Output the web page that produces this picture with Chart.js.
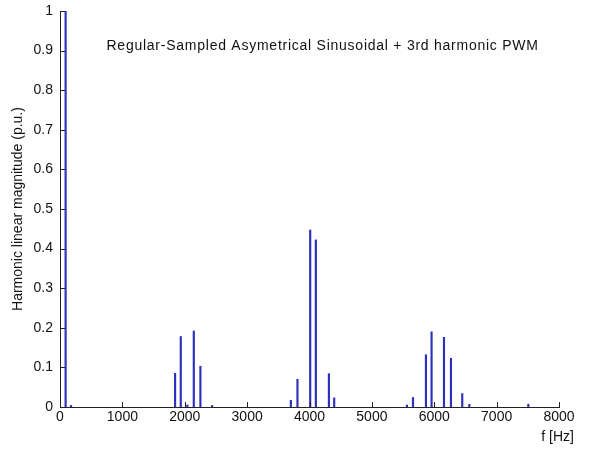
<!DOCTYPE html>
<html>
<head>
<meta charset="utf-8">
<title>Harmonic spectrum</title>
<script src="https://cdn.jsdelivr.net/npm/chart.js@4/dist/chart.umd.min.js"></script>
<style>
    html, body { margin: 0; padding: 0; background: #ffffff; }
    #spectrumChart { display: block; }
</style>
</head>
<body>
<canvas id="spectrumChart" width="590" height="458"></canvas>
<script>
// Harmonic frequencies (Hz) and their linear magnitudes (p.u.)
const harmonicFreqs = [90, 177, 1845, 1936, 2042, 2145, 2251, 2439,
    3701, 3807, 4011, 4102, 4311, 4396,
    5562, 5659, 5867, 5957, 6156, 6268, 6449, 6562, 7508];
const harmonicMags = [1.0, 0.004, 0.085, 0.178, 0.005, 0.192, 0.103, 0.004,
    0.017, 0.070, 0.447, 0.422, 0.084, 0.023,
    0.005, 0.024, 0.132, 0.190, 0.176, 0.123, 0.034, 0.007, 0.007];

// Axis ranges / tick steps
const xRange = [0, 8000];
const xStep = 1000;
const yRange = [0, 1];
const yStep = 0.1;

// Text
const plotTitle = 'Regular-Sampled Asymetrical Sinusoidal + 3rd harmonic PWM';
const xLabel = 'f [Hz]';
const yLabel = 'Harmonic linear magnitude (p.u.)';
const titleAt = { x: 4210, y: 0.91 };   // in data units

const FONT = '"Liberation Sans", Arial, Helvetica, sans-serif';
const textColor = '#111111';
const axisColor = '#222222';
const stemColor = '#2f2fbf';

/**
 * Draws MATLAB style inward tick marks, the in-axes title and the x label
 */
const matlabDecor = {
    id: 'matlabDecor',
    afterDraw(chart) {
        const { ctx, chartArea, scales } = chart;
        const x = scales.x;
        const y = scales.y;
        const len = 5;

        ctx.save();
        ctx.strokeStyle = axisColor;
        ctx.lineWidth = 1;
        ctx.beginPath();
        x.ticks.forEach(t => {
            const px = Math.round(x.getPixelForValue(t.value)) + 0.5;
            ctx.moveTo(px, chartArea.bottom);
            ctx.lineTo(px, chartArea.bottom - len);
        });
        y.ticks.forEach(t => {
            const py = Math.round(y.getPixelForValue(t.value)) + 0.5;
            ctx.moveTo(chartArea.left, py);
            ctx.lineTo(chartArea.left + len, py);
        });
        ctx.stroke();

        ctx.fillStyle = textColor;
        ctx.font = '14px ' + FONT;
        ctx.textBaseline = 'middle';

        // title inside the axes (the original font runs a little wider)
        ctx.textAlign = 'center';
        ctx.letterSpacing = '0.75px';
        ctx.fillText(plotTitle, x.getPixelForValue(titleAt.x), y.getPixelForValue(titleAt.y));
        ctx.letterSpacing = '0px';

        // x label, below the right end of the axis
        ctx.textAlign = 'right';
        ctx.fillText(xLabel, chart.width - 16, chartArea.bottom + 30);
        ctx.restore();
    }
};

const canvas = document.getElementById('spectrumChart');
const ctx = canvas.getContext('2d');

new Chart(ctx, {
    type: 'bar',
    data: {
        datasets: [{
            data: harmonicFreqs.map((f, i) => ({ x: f, y: harmonicMags[i] })),
            backgroundColor: stemColor,
            borderWidth: 0,
            barThickness: 1.5
        }]
    },
    options: {
        responsive: false,
        animation: false,
        layout: {
            padding: { top: 11, right: 31, left: 0, bottom: 0 }
        },
        plugins: {
            legend: { display: false },
            tooltip: { enabled: false }
        },
        scales: {
            x: {
                type: 'linear',
                offset: false,
                min: xRange[0],
                max: xRange[1],
                grid: { display: false, drawTicks: false },
                border: { display: true, color: axisColor, width: 1 },
                ticks: {
                    stepSize: xStep,
                    padding: 2,
                    color: textColor,
                    font: { family: FONT, size: 14 },
                    maxRotation: 0,
                    callback: function (value) {
                        return String(value);
                    }
                },
                afterFit(scale) {
                    scale.height = 51;
                    scale.paddingLeft = 0;
                    scale.paddingRight = 0;
                }
            },
            y: {
                min: yRange[0],
                max: yRange[1],
                grid: { display: false, drawTicks: false },
                border: { display: true, color: axisColor, width: 1 },
                ticks: {
                    stepSize: yStep,
                    padding: 7,
                    color: textColor,
                    font: { family: FONT, size: 14 },
                    callback: function (value) {
                        return String(Math.round(value * 10) / 10);
                    }
                },
                title: {
                    display: true,
                    text: yLabel,
                    color: textColor,
                    font: { family: FONT, size: 14 },
                    padding: { top: 10, bottom: 0 }
                },
                afterFit(scale) {
                    scale.width = 60;
                    scale.paddingTop = 0;
                    scale.paddingBottom = 0;
                }
            }
        }
    },
    plugins: [matlabDecor]
});
</script>
</body>
</html>
